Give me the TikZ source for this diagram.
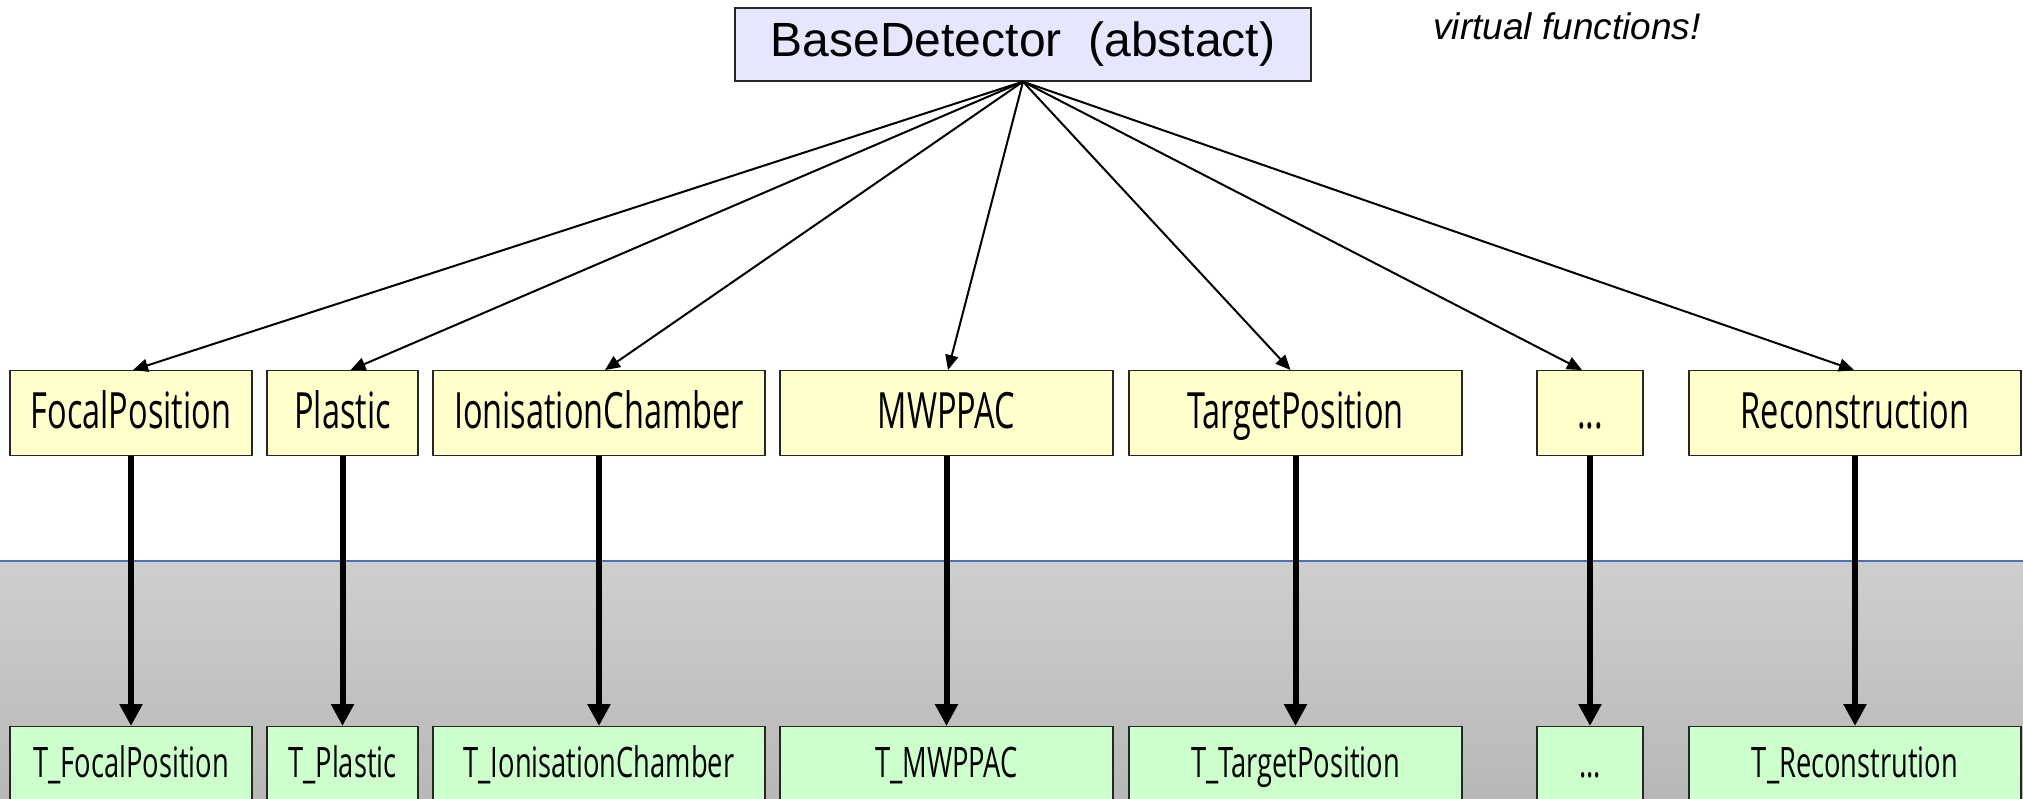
\documentclass[tikz,border=0pt]{standalone}
\usepackage{fontspec}
\setmainfont{Liberation Sans}
\newfontfamily\condfont[FakeStretch=0.65]{Open Sans}
\usetikzlibrary{arrows.meta}
\definecolor{ybox}{HTML}{FFFFCC}
\definecolor{gbox}{HTML}{CCFFCC}
\definecolor{bbox}{HTML}{E6E6FF}
\definecolor{sepline}{HTML}{4A72B8}
\tikzset{
  basebox/.style={draw=black!85, line width=1.3pt, fill=bbox, minimum width=576pt, minimum height=73pt, inner sep=0pt,
    font=\fontsize{48}{56}\selectfont},
  ylbox/.style={draw=black!85, line width=1.3pt, fill=ybox, inner xsep=0pt, inner ysep=0pt, text height=58pt, text depth=27pt,
    font=\condfont\fontsize{50}{58}\selectfont},
  grbox/.style={draw=black!85, line width=1.3pt, fill=gbox, inner xsep=0pt, inner ysep=0pt, text height=50.5pt, text depth=46.5pt, anchor=north,
    font=\condfont\fontsize{42}{50}\selectfont},
  inherit/.style={draw=black, line width=2pt, -{Triangle[length=15pt,width=13pt]}},
  maparrow/.style={draw=black, line width=6pt, -{Triangle[length=22pt,width=22pt]}},
}
\begin{document}
\begin{tikzpicture}[x=1pt,y={(0pt,-1pt)}]
\useasboundingbox (0,0) rectangle (2023,798);
\clip (0,0) rectangle (2023,798);
% lower band
\shade[top color=black!19, bottom color=black!28] (0,561) rectangle (2023,798);
\draw[sepline, line width=1.5pt] (0,561) -- (2023,561);

\node[basebox] (base) at (1023,44.5) {BaseDetector\ \ (abstact)};
\node[font=\itshape\fontsize{37}{44}\selectfont] (virt) at (1567,26) {virtual functions!};

% upper row
\node[ylbox, minimum width=242pt] (fp) at (131,413.2) {FocalPosition};
\node[ylbox, minimum width=151pt] (pl) at (342.5,413.2) {Plastic};
\node[ylbox, minimum width=332pt] (ic) at (599,413.2) {IonisationChamber};
\node[ylbox, minimum width=333pt] (mw) at (946.5,413.2) {MWPPAC};
\node[ylbox, minimum width=333pt] (tp) at (1295.5,413.2) {TargetPosition};
\node[ylbox, minimum width=106pt] (dt) at (1590,413.2) {...};
\node[ylbox, minimum width=332pt] (rc) at (1855,413.2) {Reconstruction};

% lower row
\node[grbox, minimum width=242pt] (tfp) at (131,726) {T\_FocalPosition};
\node[grbox, minimum width=151pt] (tpl) at (342.5,726) {T\_Plastic};
\node[grbox, minimum width=332pt] (tic) at (599,726) {T\_IonisationChamber};
\node[grbox, minimum width=333pt] (tmw) at (946.5,726) {T\_MWPPAC};
\node[grbox, minimum width=333pt] (ttp) at (1295.5,726) {T\_TargetPosition};
\node[grbox, minimum width=106pt] (tdt) at (1590,726) {...};
\node[grbox, minimum width=332pt] (trc) at (1855,726) {T\_Reconstrution};

% inheritance arrows
\draw[inherit] (base.south) -- ([xshift=2pt]fp.north);
\draw[inherit] (base.south) -- ([xshift=8pt]pl.north);
\draw[inherit] (base.south) -- ([xshift=6pt]ic.north);
\draw[inherit] (base.south) -- ([xshift=1.5pt]mw.north);
\draw[inherit] (base.south) -- ([xshift=-5pt]tp.north);
\draw[inherit] (base.south) -- ([xshift=-8pt]dt.north);
\draw[inherit] (base.south) -- ([xshift=-1pt]rc.north);

% mapping arrows
\draw[maparrow] (fp.south) -- (tfp.north);
\draw[maparrow] (pl.south) -- (tpl.north);
\draw[maparrow] (ic.south) -- (tic.north);
\draw[maparrow] (mw.south) -- (tmw.north);
\draw[maparrow] (tp.south) -- (ttp.north);
\draw[maparrow] (dt.south) -- (tdt.north);
\draw[maparrow] (rc.south) -- (trc.north);
\end{tikzpicture}
\end{document}
